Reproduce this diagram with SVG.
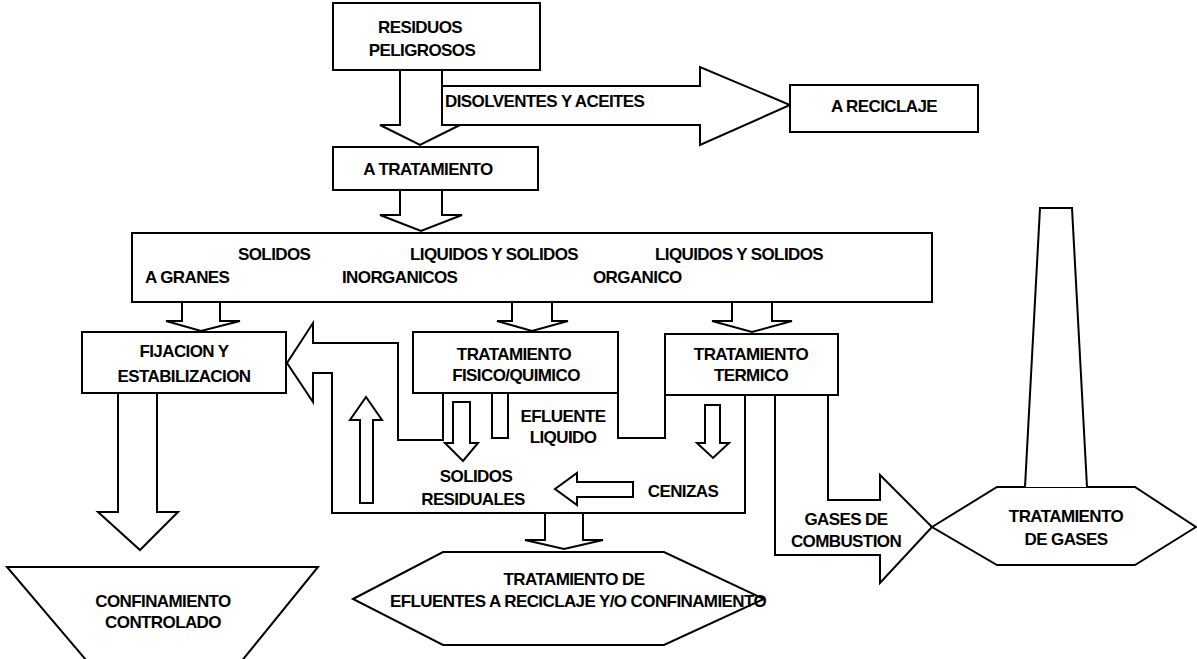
<svg xmlns="http://www.w3.org/2000/svg" width="1197" height="659" viewBox="0 0 1197 659">
<style>
.s{fill:#fff;stroke:#000;stroke-width:2;stroke-linejoin:miter}
.l{fill:none;stroke:#000;stroke-width:2}
.t{font-family:"Liberation Sans",Arial,Helvetica,sans-serif;font-size:17px;font-weight:bold;letter-spacing:-0.6px;fill:#000}
.c{text-anchor:middle}
</style>
<rect width="1197" height="659" fill="#fff"/>
<g id="connectors">
  <path class="s" d="M442,86 L700,86 L700,67 L790,105 L700,145 L700,125 L442,125 Z"/>
  <path class="s" d="M400,70 L400,125 L380,125 L420,145 L460,125 L442,125 L442,70"/>
  <path class="s" d="M400,190 L400,215 L380,215 L421,231 L462,215 L442,215 L442,190"/>
  <path class="l" d="M182,302 L182,321 L166,321 L201,331 L240,321 L220,321 L220,302"/>
  <path class="l" d="M512,302 L512,321 L497,321 L532,331 L568,321 L552,321 L552,302"/>
  <path class="l" d="M732,302 L732,321 L712,321 L752,332 L792,321 L772,321 L772,302"/>
  <path class="l" d="M443,393 L443,440 L398,440 L398,343 L313,343 L313,323 L287,363 L313,402 L313,373 L332,373 L332,513 L745,513 L745,395"/>
  <path class="l" d="M492,393 L492,438 L508,438 L508,393"/>
  <path class="l" d="M618,393 L618,438 L665,438 L665,395"/>
  <path class="l" d="M453,402 L470,402 L470,443 L478,443 L463,461 L445,443 L453,443 Z"/>
  <path class="l" d="M705,405 L720,405 L720,443 L729,443 L713,458 L697,443 L705,443 Z"/>
  <path class="l" d="M633,482 L633,497 L577,497 L577,505 L555,489 L577,473 L577,482 Z"/>
  <path class="l" d="M360,503 L373,503 L373,420 L382,420 L366,397 L350,420 L360,420 Z"/>
  <path class="l" d="M545,513 L545,540 L525,540 L564,549 L603,540 L583,540 L583,513"/>
  <path class="l" d="M118,393 L118,512 L98,512 L140,550 L178,512 L157,512 L157,393"/>
  <path class="l" d="M775,395 L775,555 L880,555 L880,583 L932,527 L880,475 L880,500 L828,500 L828,395"/>
  <text class="t" x="445" y="107">DISOLVENTES Y ACEITES</text>
  <text class="t c" x="563" y="422">EFLUENTE</text>
  <text class="t c" x="563" y="443">LIQUIDO</text>
  <text class="t c" x="476" y="482">SOLIDOS</text>
  <text class="t c" x="473" y="505">RESIDUALES</text>
  <text class="t c" x="683" y="497">CENIZAS</text>
  <text class="t c" x="846" y="525">GASES DE</text>
  <text class="t c" x="846" y="547">COMBUSTION</text>
</g>
<g id="residuos">
  <rect class="s" x="333" y="3" width="207" height="67"/>
  <text class="t c" x="420" y="33">RESIDUOS</text>
  <text class="t c" x="422" y="56">PELIGROSOS</text>
</g>
<g id="reciclaje">
  <rect class="s" x="790" y="85" width="188" height="47"/>
  <text class="t c" x="884" y="112">A RECICLAJE</text>
</g>
<g id="tratamiento">
  <rect class="s" x="333" y="147" width="205" height="43"/>
  <text class="t c" x="428" y="175">A TRATAMIENTO</text>
</g>
<g id="clasificacion">
  <rect class="s" x="132" y="233" width="800" height="69"/>
  <text class="t" x="238" y="260">SOLIDOS</text>
  <text class="t" x="145" y="283">A GRANES</text>
  <text class="t" x="410" y="260">LIQUIDOS Y SOLIDOS</text>
  <text class="t" x="342" y="283">INORGANICOS</text>
  <text class="t" x="655" y="260">LIQUIDOS Y SOLIDOS</text>
  <text class="t" x="593" y="283">ORGANICO</text>
</g>
<g id="fijacion">
  <rect class="s" x="82" y="332" width="204" height="61"/>
  <text class="t c" x="184" y="357">FIJACION Y</text>
  <text class="t c" x="184" y="382">ESTABILIZACION</text>
</g>
<g id="fisico">
  <rect class="s" x="413" y="332" width="205" height="61"/>
  <text class="t c" x="514" y="360">TRATAMIENTO</text>
  <text class="t c" x="516" y="381">FISICO/QUIMICO</text>
</g>
<g id="termico">
  <rect class="s" x="665" y="334" width="173" height="61"/>
  <text class="t c" x="751" y="360">TRATAMIENTO</text>
  <text class="t c" x="751" y="381">TERMICO</text>
</g>
<g id="confinamiento">
  <polygon class="s" points="7,567 318,567 210,700 120,700"/>
  <text class="t c" x="163" y="607">CONFINAMIENTO</text>
  <text class="t c" x="163" y="628">CONTROLADO</text>
</g>
<g id="efluentes">
  <polygon class="s" points="353,599 443,552 664,552 764,599 664,645 443,645"/>
  <text class="t c" x="574" y="585">TRATAMIENTO DE</text>
  <text class="t c" x="578" y="607">EFLUENTES A RECICLAJE Y/O CONFINAMIENTO</text>
</g>
<g id="gases">
  <polygon class="s" points="932,527 997,487 1135,487 1196,527 1135,565 997,565"/>
  <path class="s" d="M1025,487 L1040,208 L1072,208 L1087,487"/>
  <text class="t c" x="1066" y="522">TRATAMIENTO</text>
  <text class="t c" x="1066" y="545">DE GASES</text>
</g>
</svg>
